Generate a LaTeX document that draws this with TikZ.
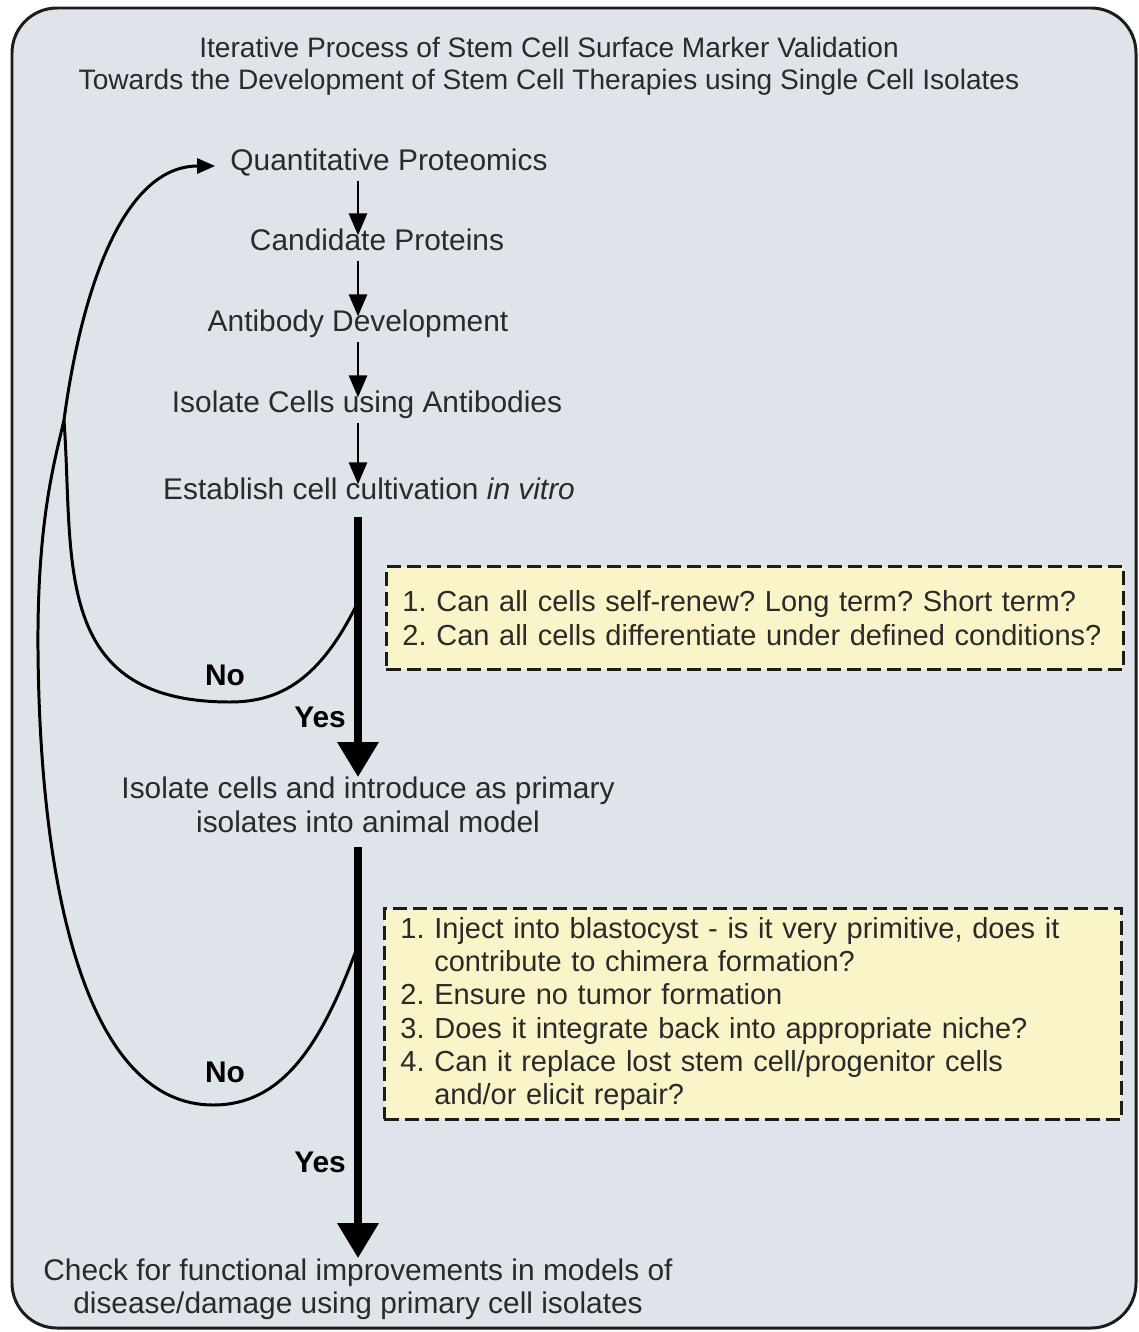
\documentclass[tikz,border=0pt]{standalone}
\usepackage{fontspec}
\setmainfont{Liberation Sans}
\usetikzlibrary{arrows.meta,positioning,calc}
\frenchspacing
\definecolor{mvPanel}{RGB}{222,228,233}
\definecolor{mvFrame}{RGB}{ 28, 28, 28}
\definecolor{mvNote} {RGB}{250,245,200}
\definecolor{mvInk}  {RGB}{ 42, 42, 42}

\begin{document}
\begin{tikzpicture}[
  x=0.02cm,y=-0.02cm,
  font=\fontsize{17}{19}\selectfont,
  txt/.style={inner sep=0pt,text height=0.72em,text depth=0.22em,color=mvInk},
  txtTwo/.style={inner sep=0pt,align=center,color=mvInk},
  ans/.style={inner sep=0pt,font=\fontsize{17}{19}\selectfont\bfseries,color=black},
  note/.style={rectangle,draw=mvFrame,fill=mvNote,line width=1.7pt,
               dash pattern=on 8pt off 3.4pt,text width=14.1cm,inner xsep=0.32cm,
               font=\fontsize{16.5}{19}\selectfont,
               align=left,anchor=north west,text=mvInk},
  stepArrow/.style={-{Triangle[width=0.36cm,length=0.44cm]},line width=1.6pt,
                    shorten <=0.12cm,shorten >=0.04cm},
  yesArrow/.style={-{Triangle[width=0.8cm,length=0.7cm]},line width=4pt},
  noLoop/.style={line width=1.7pt}
]
\useasboundingbox (0,0) rectangle (1139,1332);
% Geometry: pixel grid of the figure, spine of the flow at x=358.
\def\spineX{358}

% --- Frame
\draw[line width=1.7pt,draw=mvFrame,fill=mvPanel,rounded corners=0.9cm]
  (12,8) rectangle (1136,1328);

% --- Title
\node[txtTwo,font=\fontsize{16}{18.2}\selectfont] (title) at (549,66)
  {Iterative Process of Stem Cell Surface Marker Validation\\
   Towards the Development of Stem Cell Therapies using Single Cell Isolates};

% --- Upper chain
\coordinate (spine) at (\spineX,0);
\node[txt] (qp)  at (389,166) {Quantitative Proteomics};
\node[txt] (cp)  at (377,246) {Candidate Proteins};
\node[txt] (ad)  at (358,327) {Antibody Development};
\node[txt] (ic)  at (367,408) {Isolate Cells using Antibodies};
\node[txt] (est) at (369,495) {Establish cell cultivation \textit{in vitro}};
\draw[stepArrow] (qp.south -| spine) -- (cp.north -| spine);
\draw[stepArrow] (cp.south -| spine) -- (ad.north -| spine);
\draw[stepArrow] (ad.south -| spine) -- (ic.north -| spine);
\draw[stepArrow] (ic.south -| spine) -- (est.north -| spine);

% --- First check
\node[note,minimum height=2.06cm] (q1) at (385,565)
  {1. Can all cells self-renew? Long term? Short term?\\
   2. Can all cells differentiate under defined conditions?};
\node[txtTwo] (iso) at (368,805)
  {Isolate cells and introduce as primary\\isolates into animal model};
\draw[yesArrow,shorten <=0.26cm] (est.south -| spine) -- (iso.north -| spine);
\node[ans] (yes1) at (320,717) {Yes};
\node[ans] (no1)  at (225,675) {No};

% --- Second check
\node[note,minimum height=4.22cm] (q2) at (383,907)
  {1. Inject into blastocyst - is it very primitive, does it\\
   \phantom{1. }contribute to chimera formation?\\
   2. Ensure no tumor formation\\
   3. Does it integrate back into appropriate niche?\\
   4. Can it replace lost stem cell/progenitor cells\\
   \phantom{4. }and/or elicit repair?};
\node[txtTwo] (chk) at (358,1289)
  {Check for functional improvements in models of\\disease/damage using primary cell isolates};
\draw[yesArrow,shorten <=0.28cm] (iso.south -| spine) -- (chk.north -| spine);
\node[ans] (yes2) at (320,1162) {Yes};
\node[ans] (no2)  at (225,1072) {No};

% --- Feedback loops
\coordinate (j1)    at (\spineX,602);
\coordinate (j2)    at (\spineX,945);
\coordinate (bot1)  at (230,702);
\coordinate (bot2)  at (213,1105);
\coordinate (merge) at (64,420);
\draw[noLoop] (j1) .. controls (320,680) and (280,702) .. (bot1)
  .. controls (50,702) and (74,560) .. (merge);
\draw[noLoop] (j2) .. controls (320,1050) and (280,1105) .. (bot2)
  .. controls (90,1105) and (40,900) .. (38,650)
  .. controls (37,520) and (55,460) .. (merge);
\draw[noLoop,-{Triangle[width=0.3cm,length=0.36cm]}]
  (merge) .. controls (80,300) and (120,166) .. ([xshift=-0.3cm]qp.west);
\end{tikzpicture}
\end{document}
